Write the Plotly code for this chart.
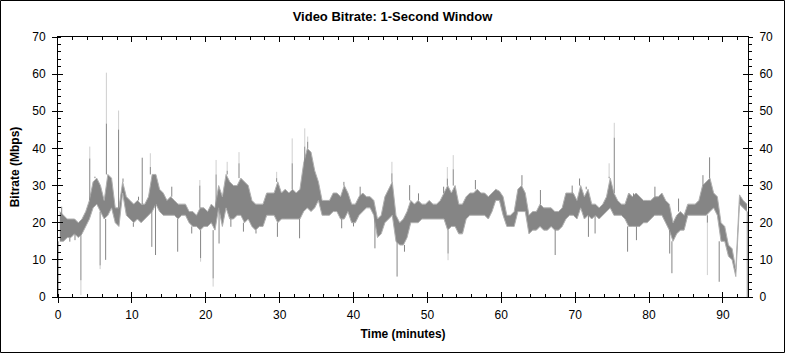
import plotly.graph_objects as go

# ---------------- data ----------------
BIN_MIN = 0.5          # width of each time bin, minutes
# lower / upper edge of the dense 1-second trace inside each 0.5-min bin (Mbps)
band_lo = [
    15, 15, 16, 16, 17, 16, 17, 19, 21, 24,
    25, 23, 21, 22, 24, 20, 19, 28, 22, 21,
    20, 21, 20, 21, 22, 23, 25, 23, 22, 22,
    22, 22, 21, 22, 22, 20, 19, 19, 18, 19,
    19, 20, 18, 24, 19, 24, 21, 21, 22, 22,
    20, 21, 19, 18, 19, 19, 22, 22, 22, 20,
    21, 21, 21, 21, 21, 21, 23, 24, 23, 24,
    26, 22, 22, 22, 23, 23, 21, 21, 23, 20,
    20, 22, 23, 24, 24, 22, 16, 17, 20, 21,
    22, 15, 14, 14, 16, 20, 20, 20, 21, 21,
    21, 21, 21, 21, 21, 18, 19, 19, 17, 17,
    21, 22, 22, 22, 22, 22, 21, 23, 26, 26,
    22, 19, 19, 19, 23, 23, 23, 17, 18, 18,
    19, 18, 18, 19, 18, 18, 19, 21, 22, 22,
    21, 24, 21, 22, 21, 22, 21, 22, 23, 24,
    22, 22, 22, 21, 19, 19, 19, 19, 20, 20,
    21, 22, 22, 22, 20, 18, 15, 17, 18, 18,
    22, 22, 22, 22, 22, 22, 23, 24, 22, 15,
    15, 11, 10, 5.5, 25, 24, 23,
]
band_hi = [
    23, 22, 21, 21, 21, 20, 21, 23, 26, 31,
    32, 30, 26, 33, 32, 24, 24, 31, 27, 26,
    25, 26, 25, 25, 27, 33, 33, 29, 28, 26,
    27, 26, 25, 25, 25, 23, 23, 22, 24, 24,
    23, 25, 24, 30, 27, 33, 31, 30, 30, 32,
    31, 30, 26, 25, 25, 25, 28, 28, 28, 31,
    28, 29, 28, 29, 28, 29, 36, 40, 39, 34,
    31, 26, 26, 26, 28, 28, 27, 30, 28, 25,
    25, 27, 28, 27, 27, 26, 21, 22, 27, 29,
    31, 22, 20, 21, 23, 26, 25, 26, 25, 25,
    26, 25, 25, 26, 28, 30, 28, 30, 25, 25,
    27, 28, 28, 29, 28, 28, 27, 28, 29, 28.5,
    27, 22, 22, 23, 29, 30, 28, 22, 23, 23,
    25, 24, 24, 24, 23, 23, 24, 28, 28, 28,
    26, 30, 27, 29, 25, 25, 24, 25, 27, 32,
    28, 26, 25, 25, 28, 27, 28, 27, 26, 26,
    26, 27, 27, 28, 26, 25, 20, 22, 23, 22,
    25, 25, 25, 26, 30, 31, 32, 28, 27, 20,
    19, 14, 13, 7.5, 27.5, 26, 25,
]
# isolated peaks / dips: time (min), dark tip (Mbps), light-grey extreme tip (Mbps or None)
spike_t = [0.02, 0.5, 1.6, 2.3, 3.1, 4.3, 5.0, 5.7, 6.45, 6.55, 8.2, 8.8,
           10.2, 10.9, 11.4, 12.5, 12.7, 13.2, 15.4, 16.2, 18.1, 19.2, 19.3,
           21.0, 21.4, 21.8, 22.9, 23.4, 24.5, 25.1, 26.8, 29.6, 29.7, 31.7,
           32.7, 33.4, 33.8, 38.4, 38.7, 40.0, 40.9, 42.9, 45.2, 45.9, 46.9,
           47.6, 48.8, 52.2, 52.7, 52.8, 53.5, 56.5, 62.8, 65.3, 67.3, 69.6,
           70.6, 71.5, 71.8, 72.7, 74.6, 75.3, 77.1, 77.9, 78.3, 80.8, 82.8,
           83.1, 84.0, 87.3, 87.9, 88.2, 89.5, 93.3]
spike_dark = [0, 24.3, 14.9, 15.3, 4.5, 37.3, 32.4, 8.5, 10, 46.7, 45.1, 31.9,
              18.9, 27, 37.5, 35, 13.5, 11.3, 29.7, 12.2, 17.1, 30, 10.5,
              5, 33, 14.4, 34, 18.9, 36, 17.6, 17.1, 32, 16.2, 36,
              15.8, 40.5, 41.8, 18.5, 31, 19, 29.7, 13.1, 33.3, 5.5, 12.2,
              30.1, 27.9, 29.7, 31.9, 11.7, 34.4, 31.5, 32.8, 28.8, 11.3, 30,
              31.9, 29.7, 16.2, 17.1, 32.4, 42.9, 12.2, 27.9, 15.3, 29.7, 11.7,
              6.4, 26.5, 32.8, 20, 37.6, 4.1, 0]
spike_light = [None, None, None, None, 0.5, 40.5, None, 7.5, None, 60.4, 50.2, None,
               None, None, None, 38.7, None, None, None, None, None, 31.5, 9.5,
               2.8, 36.9, None, 36.4, None, 39, None, None, 33.7, None, 42.7,
               None, 45.4, 43.2, None, None, None, None, None, 36.4, None, None,
               None, None, None, 35, 9.9, 38.2, None, None, None, None, None,
               None, None, None, None, 36, 46.9, None, None, None, None, None,
               None, None, None, 5.9, None, None, None]

x_ticks = [0, 10, 20, 30, 40, 50, 60, 70, 80, 90]
y_ticks = [0, 10, 20, 30, 40, 50, 60, 70]
X_MAX = 93.4
Y_MAX = 70

# ---------------- build marks ----------------
band_t = [i * BIN_MIN + BIN_MIN / 2 for i in range(len(band_lo))]

dark_x, dark_y, light_x, light_y = [], [], [], []
for t, d, l in zip(spike_t, spike_dark, spike_light):
    k = min(int(t / BIN_MIN), len(band_lo) - 1)
    base = band_hi[k] if d > band_hi[k] else band_lo[k]
    dark_x += [t, t, None]
    dark_y += [base, d, None]
    if l is not None:
        light_x += [t, t, None]
        light_y += [d, l, None]

DARK = "#858585"
EDGE = "#b0b0b0"
LIGHT = "#cfcfcf"

fig = go.Figure()
fig.add_trace(go.Scatter(x=light_x, y=light_y, mode="lines", line=dict(color=LIGHT, width=1),
                         hoverinfo="skip", showlegend=False))
fig.add_trace(go.Scatter(x=band_t, y=band_lo, mode="lines", line=dict(color=EDGE, width=1),
                         hoverinfo="skip", showlegend=False))
fig.add_trace(go.Scatter(x=band_t, y=band_hi, mode="lines", line=dict(color=EDGE, width=1),
                         fill="tonexty", fillcolor=DARK,
                         hoverinfo="skip", showlegend=False))
fig.add_trace(go.Scatter(x=dark_x, y=dark_y, mode="lines", line=dict(color=DARK, width=1),
                         hoverinfo="skip", showlegend=False))
# empty traces to activate the overlay axes used for crossing / mirrored ticks
fig.add_trace(go.Scatter(x=[None], y=[None], xaxis="x2", yaxis="y2", showlegend=False))
fig.add_trace(go.Scatter(x=[None], y=[None], xaxis="x3", yaxis="y3", showlegend=False))
fig.add_trace(go.Scatter(x=[None], y=[None], xaxis="x3", yaxis="y4", showlegend=False))

FONT = "Liberation Sans, Arial, sans-serif"
W, H = 785, 353
ML, MR, MT, MB = 58, 37, 37, 56

common = dict(range=[0, X_MAX], tickvals=x_ticks, showgrid=False, zeroline=False)
ycommon = dict(range=[0, Y_MAX], tickvals=y_ticks, showgrid=False, zeroline=False)

fig.update_layout(
    width=W, height=H,
    margin=dict(l=ML, r=MR, t=MT, b=MB),
    paper_bgcolor="white", plot_bgcolor="white",
    font=dict(family=FONT, size=12, color="black"),
    title=dict(text="<b>Video Bitrate: 1-Second Window</b>", x=0.5, xanchor="center",
               y=1 - 16 / H, yanchor="middle", yref="container",
               font=dict(family=FONT, size=13, color="black")),
    xaxis=dict(**common, showline=True, linecolor="black", linewidth=1,
               ticks="outside", ticklen=5, tickcolor="black",
               minor=dict(ticks="inside", ticklen=3, dtick=2, tickcolor="black"),
               title=dict(text="<b>Time (minutes)</b>", standoff=8,
                          font=dict(family=FONT, size=12)),
               tickfont=dict(size=12), ticklabelstandoff=2),
    xaxis2=dict(**common, overlaying="x", side="top", anchor="y",
                showline=True, linecolor="black", linewidth=1,
                ticks="inside", ticklen=5, tickcolor="black", showticklabels=False,
                minor=dict(ticks="inside", ticklen=3, dtick=2, tickcolor="black")),
    xaxis3=dict(**common, overlaying="x", side="bottom", anchor="y",
                showline=False, ticks="inside", ticklen=5, tickcolor="black",
                showticklabels=False),
    yaxis=dict(**ycommon, showline=True, linecolor="black", linewidth=1,
               ticks="outside", ticklen=5, tickcolor="black",
               minor=dict(ticks="inside", ticklen=3, dtick=2, tickcolor="black"),
               title=dict(text="<b>Bitrate (Mbps)</b>", standoff=10,
                          font=dict(family=FONT, size=12)),
               tickfont=dict(size=12), ticklabelstandoff=4),
    yaxis2=dict(**ycommon, overlaying="y", side="right", anchor="x",
                showline=True, linecolor="black", linewidth=1,
                ticks="outside", ticklen=4, tickcolor="black",
                minor=dict(ticks="outside", ticklen=3, dtick=2, tickcolor="black"),
                tickfont=dict(size=12), ticklabelstandoff=4),
    yaxis3=dict(**ycommon, overlaying="y", side="left", anchor="x",
                showline=False, ticks="inside", ticklen=5, tickcolor="black",
                showticklabels=False),
    yaxis4=dict(**ycommon, overlaying="y", side="right", anchor="x",
                showline=False, ticks="inside", ticklen=5, tickcolor="black",
                showticklabels=False),
)

# outer frame of the picture
pw = W - ML - MR
ph = H - MT - MB
fig.add_shape(type="rect", xref="paper", yref="paper",
              x0=-(ML - 0.5) / pw, x1=1 + (MR - 0.5) / pw,
              y0=-(MB - 0.5) / ph, y1=1 + (MT - 0.5) / ph,
              line=dict(color="black", width=1), layer="above")

fig.write_html("out.html")
